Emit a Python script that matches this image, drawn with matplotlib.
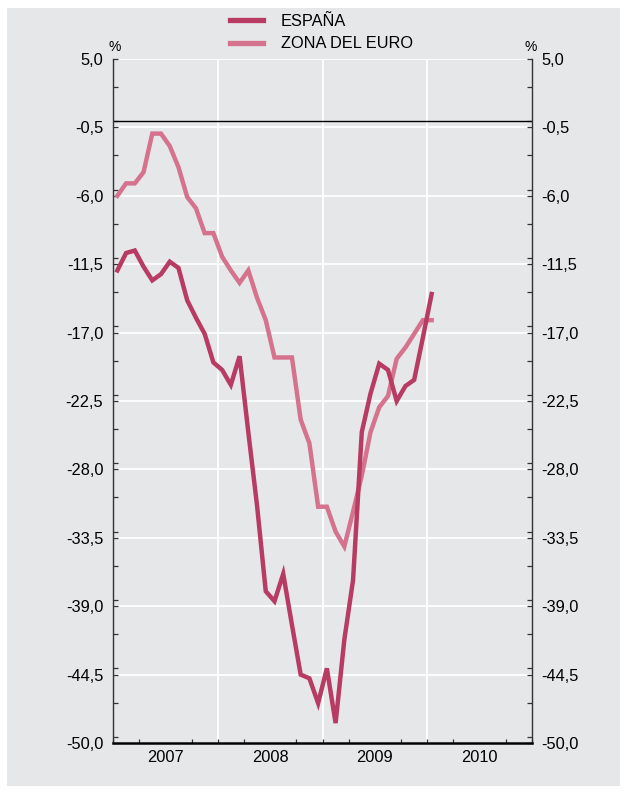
import numpy as np
import matplotlib
matplotlib.use("Agg")
import matplotlib.pyplot as plt
from matplotlib.patches import Rectangle
from matplotlib.ticker import MultipleLocator, FixedLocator

plt.rcParams['font.family'] = ['Liberation Sans', 'DejaVu Sans']

# Monthly data, Jan 2007 .. Jan 2010
espana = [-12.0, -10.6, -10.4, -11.7, -12.8, -12.3, -11.3, -11.8, -14.4, -15.8,
          -17.1, -19.4, -20.0, -21.2, -18.9, -25.0, -30.9, -37.8, -38.6, -36.4,
          -40.5, -44.5, -44.8, -46.8, -44.0, -48.4, -41.7, -36.9, -25.0, -21.9,
          -19.5, -20.0, -22.5, -21.3, -20.8, -17.4, -13.9]
zona_euro = [-6.0, -5.0, -5.0, -4.1, -1.0, -1.0, -2.0, -3.7, -6.1, -7.0,
             -9.0, -9.0, -10.9, -12.0, -13.0, -12.0, -14.2, -16.0, -19.0, -19.0,
             -19.0, -24.0, -25.9, -31.0, -31.0, -33.0, -34.2, -31.4, -28.5, -25.0,
             -23.0, -22.1, -19.1, -18.2, -17.1, -16.0, -16.0]
years = ['2007', '2008', '2009', '2010']
y_ticks = [5.0, -0.5, -6.0, -11.5, -17.0, -22.5, -28.0, -33.5, -39.0, -44.5, -50.0]
labels = ['ESPAÑA', 'ZONA DEL EURO']

c_es = '#b83b63'
c_ze = '#d5738f'
bg = '#e6e7e8'

W, H = 628, 794
fig = plt.figure(figsize=(W / 100, H / 100), dpi=100)
fig.patch.set_facecolor('white')
fig.add_artist(Rectangle((7 / W, 8 / H), (620 - 7) / W, (786 - 8) / H,
                         transform=fig.transFigure, facecolor=bg, edgecolor='none', zorder=0))

ax = fig.add_axes([113 / W, 1 - 743 / H, (532 - 113) / W, (743 - 59) / H])
ax.set_facecolor(bg)

x = np.arange(len(espana)) + 0.5
ax.set_xlim(0, 48)
ax.set_ylim(-50, 5)

# grid
for yt in y_ticks:
    ax.axhline(yt, color='white', lw=1.3, zorder=1)
for xv in [12, 24, 36]:
    ax.axvline(xv, color='white', lw=1.3, zorder=1)
ax.axhline(0, color='black', lw=1.0, zorder=2)

l1, = ax.plot(x, espana, color=c_es, lw=3.2, solid_joinstyle='miter', zorder=4)
l2, = ax.plot(x, zona_euro, color=c_ze, lw=3.2, solid_joinstyle='miter', zorder=3)

# y axis
ax.yaxis.set_major_locator(FixedLocator(y_ticks))
ax.set_yticklabels([f"{v:.1f}".replace('.', ',') for v in y_ticks])
ax.yaxis.set_minor_locator(MultipleLocator(2.75))
ax.tick_params(axis='y', which='both', direction='in', left=True, right=True,
               labelleft=True, labelright=True, length=3.5, width=0.9,
               color='#333333', labelsize=11.8, pad=7)

# x axis
ax.xaxis.set_major_locator(FixedLocator([6, 18, 30, 42]))
ax.set_xticklabels(years)
ax.xaxis.set_minor_locator(MultipleLocator(3))
ax.tick_params(axis='x', which='major', length=0, labelsize=11.8, pad=5)
ax.tick_params(axis='x', which='minor', direction='in', length=3, width=0.9, color='#333333')

for s in ['left', 'right']:
    ax.spines[s].set_color('#333333')
    ax.spines[s].set_linewidth(1.0)
ax.spines['top'].set_visible(False)
ax.spines['bottom'].set_color('black')
ax.spines['bottom'].set_linewidth(1.8)

fig.text(115 / W, 1 - 47 / H, '%', fontsize=10, ha='center', va='center')
fig.text(531 / W, 1 - 47 / H, '%', fontsize=10, ha='center', va='center')

leg = fig.legend([l1, l2], labels, loc='upper left', bbox_to_anchor=(230 / W, 1 - 14 / H),
                 frameon=False, fontsize=11.8, handlelength=2.0, handletextpad=1.1,
                 labelspacing=0.45, borderpad=0, borderaxespad=0)
for h in leg.get_lines():
    h.set_linewidth(3.8)

fig.savefig('out.png', dpi=100, facecolor='white')
